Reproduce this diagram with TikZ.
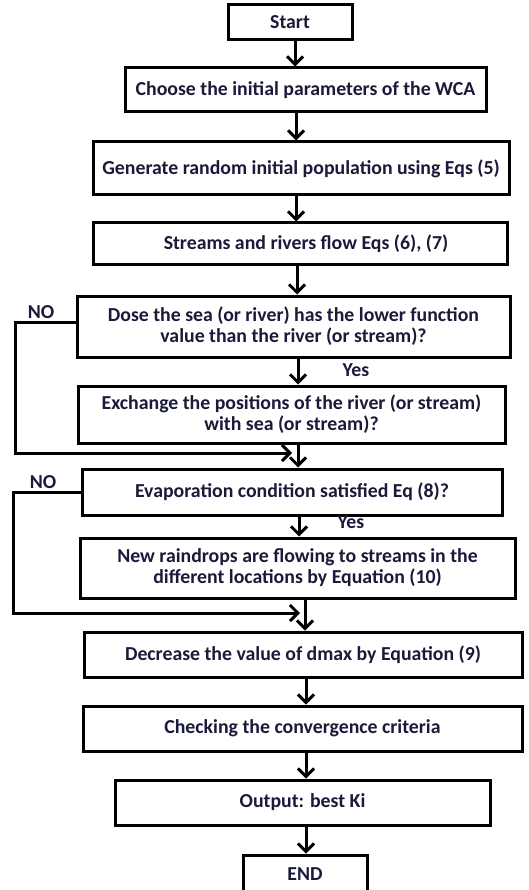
\documentclass[tikz,border=0pt]{standalone}
\usepackage{fontspec}
\setmainfont{Carlito}
\usetikzlibrary{arrows.meta}
\definecolor{txt}{HTML}{1A1A3A}
\begin{document}
\begin{tikzpicture}[x=1pt,y=-1pt,
  box/.style={draw=black, line width=3pt, fill=white, align=center,
    font=\bfseries\fontsize{19.8}{21}\selectfont, text=txt, inner sep=0pt},
  arr/.style={line width=3pt, -{Straight Barb[length=8pt,width=16pt]}},
  lbl/.style={font=\bfseries\fontsize{19.8}{21}\selectfont, text=txt, inner sep=0pt}]
\useasboundingbox (0,0) rectangle (529,890);
% columns for the vertical connectors
\coordinate (cA) at (295,0);
\coordinate (cB) at (296,0);
\coordinate (cC) at (297,0);
\coordinate (cD) at (298,0);
\coordinate (cE) at (299,0);
\coordinate (cF) at (305,0);
\coordinate (cG) at (306,0);
% boxes
\node[box, minimum width=124pt, minimum height=35pt] (start) at (290,22.5) {Start};
\node[box, minimum width=361pt, minimum height=44pt] (choose) at (305.5,90) {Choose the initial parameters of the WCA};
\node[box, minimum width=416pt, minimum height=53pt] (gen) at (301,168.5) {Generate random initial population using Eqs (5)};
\node[box, minimum width=414pt, minimum height=42pt] (streams) at (300,244) {\hspace*{12pt}Streams and rivers flow Eqs (6), (7)};
\node[box, minimum width=433pt, minimum height=61pt] (dose) at (293.5,326.5) {Dose the sea (or river) has the lower function\\ value than the river (or stream)?};
\node[box, minimum width=427pt, minimum height=57pt] (exch) at (291.5,414.5) {Exchange the positions of the river (or stream)\\ with sea (or stream)?};
\node[box, minimum width=420pt, minimum height=46pt] (evap) at (292,492) {Evaporation condition satisfied Eq (8)?};
\node[box, minimum width=435pt, minimum height=60pt] (newr) at (297.5,568) {New raindrops are flowing to streams in the\\ different locations by Equation (10)};
\node[box, minimum width=438pt, minimum height=45pt] (decr) at (303,654.5) {Decrease the value of dmax by Equation (9)};
\node[box, minimum width=439pt, minimum height=45pt] (check) at (302.5,728.5) {Checking the convergence criteria};
\node[box, minimum width=375pt, minimum height=45pt] (out) at (302.5,802.5) {Output: best Ki};
\node[box, minimum width=124pt, minimum height=38pt] (fin) at (305,874) {END};
% main flow
\draw[arr] (start.south -| cA) -- (choose.north -| cA);
\draw[arr] (choose.south -| cB) -- (gen.north -| cB);
\draw[arr] (gen.south -| cB) -- (streams.north -| cB);
\draw[arr] (streams.south -| cC) -- (dose.north -| cC);
\draw[arr] (dose.south -| cD) -- (exch.north -| cD);
\draw[arr] (exch.south -| cD) -- (evap.north -| cD);
\draw[arr] (evap.south -| cE) -- (newr.north -| cE);
\draw[arr] (newr.south -| cF) -- (decr.north -| cF);
\draw[arr] (decr.south -| cG) -- (check.north -| cG);
\draw[arr] (check.south -| cG) -- (out.north -| cG);
\draw[arr] (out.south -| cG) -- (fin.north -| cG);
% NO loops
\coordinate (n1) at (15,453);
\coordinate (m1) at (292,453);
\draw[arr] ([yshift=4.5pt]dose.west) -| (n1) -- (m1);
\coordinate (n2) at (13,613);
\coordinate (m2) at (300,613);
\draw[arr] (evap.west) -| (n2) -- (m2);
% labels
\node[lbl] (no1) at (41,312) {NO};
\node[lbl] (yes1) at (356,370) {Yes};
\node[lbl] (no2) at (43,482) {NO};
\node[lbl] (yes2) at (351,522) {Yes};
\end{tikzpicture}
\end{document}
